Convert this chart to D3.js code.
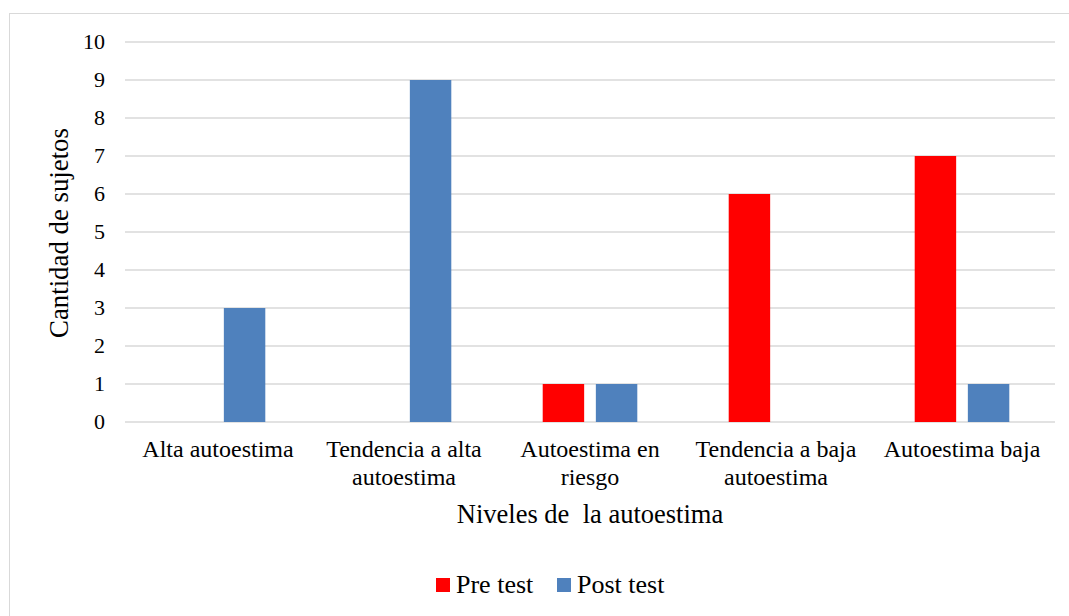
<!DOCTYPE html>
<html>
<head>
<meta charset="utf-8">
<script src="https://cdn.jsdelivr.net/npm/d3@7"></script>
</head>
<body style="margin:0">
<div id="chart"></div>
<script>
// data
const categories = [
  ["Alta autoestima"],
  ["Tendencia a alta", "autoestima"],
  ["Autoestima en", "riesgo"],
  ["Tendencia a baja", "autoestima"],
  ["Autoestima baja"]
];
const seriesNames = ["Pre test", "Post test"];
const preTest = [0, 0, 1, 6, 7];
const postTest = [3, 9, 1, 0, 1];
const yTicks = [0, 1, 2, 3, 4, 5, 6, 7, 8, 9, 10];
const colors = ["#ff0000", "#4f81bd"];

const width = 1069, height = 616;
const plotLeft = 125, plotRight = 1055, plotTop = 42, plotBottom = 422;
const serif = "'Liberation Serif'";

const svg = d3.select("#chart").append("svg")
  .attr("width", width)
  .attr("height", height);

// outer frame
svg.append("rect")
  .attr("x", 9.5).attr("y", 13.5)
  .attr("width", width + 20).attr("height", height + 20)
  .attr("fill", "none")
  .attr("stroke", "#d9d9d9");

const x = d3.scaleBand()
  .domain(d3.range(categories.length))
  .range([plotLeft, plotRight]);

const x1 = d3.scaleBand()
  .domain([0, 1])
  .range([0, x.bandwidth()])
  .paddingInner(0.22)
  .paddingOuter(0.86);

const y = d3.scaleLinear().domain([0, 10]).range([plotBottom, plotTop]);

// grid lines
svg.append("g")
  .selectAll("line")
  .data(yTicks)
  .enter().append("line")
  .attr("x1", plotLeft).attr("x2", plotRight)
  .attr("y1", d => y(d)).attr("y2", d => y(d))
  .attr("stroke", "#d9d9d9")
  .attr("stroke-width", 1.5);

// y tick labels
svg.append("g")
  .selectAll("text")
  .data(yTicks)
  .enter().append("text")
  .attr("x", 105)
  .attr("y", d => y(d))
  .attr("dy", "0.34em")
  .attr("text-anchor", "end")
  .style("font-family", serif)
  .style("font-size", "22px")
  .text(d => d);

// bars
const series = [preTest, postTest];
series.forEach((vals, s) => {
  svg.append("g")
    .selectAll("rect")
    .data(vals)
    .enter().append("rect")
    .attr("x", (d, i) => x(i) + x1(s))
    .attr("width", x1.bandwidth())
    .attr("y", d => y(d))
    .attr("height", d => y(0) - y(d))
    .attr("fill", colors[s]);
});

// category labels
const catG = svg.append("g");
categories.forEach((lines, i) => {
  const t = catG.append("text")
    .attr("x", x(i) + x.bandwidth() / 2)
    .attr("y", 457)
    .attr("text-anchor", "middle")
    .style("font-family", serif)
    .style("font-size", "24px");
  lines.forEach((ln, j) => {
    t.append("tspan")
      .attr("x", x(i) + x.bandwidth() / 2)
      .attr("dy", j === 0 ? 0 : 28)
      .text(ln);
  });
});

// axis titles
svg.append("text")
  .attr("x", (plotLeft + plotRight) / 2)
  .attr("y", 523)
  .attr("text-anchor", "middle")
  .style("font-family", serif)
  .style("font-size", "26.5px")
  .style("white-space", "pre")
  .text("Niveles de  la autoestima");

svg.append("text")
  .attr("transform", "translate(68," + ((plotTop + plotBottom) / 2 + 1) + ") rotate(-90)")
  .attr("text-anchor", "middle")
  .style("font-family", serif)
  .style("font-size", "26.8px")
  .text("Cantidad de sujetos");

// legend
const legend = svg.append("g");
const legendX = [436, 557];
seriesNames.forEach((name, i) => {
  legend.append("rect")
    .attr("x", legendX[i]).attr("y", 578)
    .attr("width", 14).attr("height", 14)
    .attr("fill", colors[i]);
  legend.append("text")
    .attr("x", legendX[i] + 20)
    .attr("y", 593)
    .style("font-family", serif)
    .style("font-size", "26px")
    .text(name);
});
</script>
</body>
</html>
